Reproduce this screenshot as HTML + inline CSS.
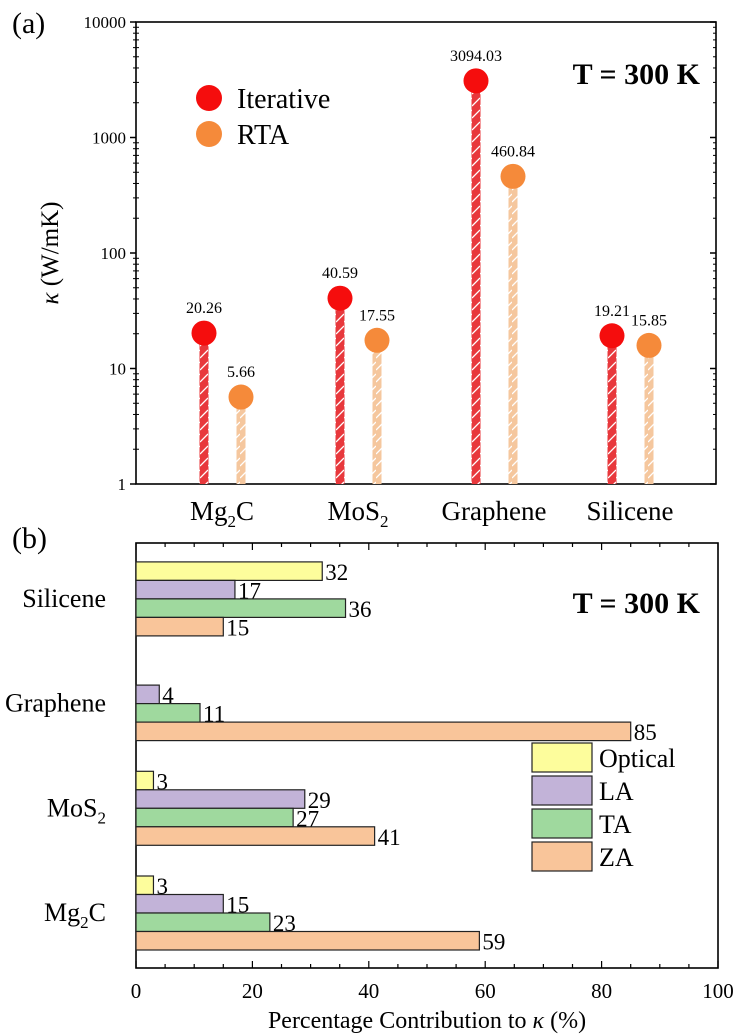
<!DOCTYPE html>
<html><head><meta charset="utf-8"><style>
html,body{margin:0;padding:0;background:#fff}
svg{display:block;font-family:"Liberation Serif",serif}
</style></head><body>
<svg id="fig" width="735" height="1034" viewBox="0 0 735 1034">
<defs>
<pattern id="hatchR" patternUnits="userSpaceOnUse" width="8" height="12">
<rect width="8" height="12" fill="#e8383c"/><line x1="0" y1="10" x2="8" y2="2" stroke="#fff" stroke-width="1.3"/></pattern>
<pattern id="hatchO" patternUnits="userSpaceOnUse" width="8" height="12">
<rect width="8" height="12" fill="#f5c79e"/><line x1="0" y1="10" x2="8" y2="2" stroke="#fff" stroke-width="1.3"/></pattern>
</defs>
<g id="pa"></g>
<g id="pb"></g>
</svg>
<script>
// ---- Panel (a) data ----
const catsA = ["Mg2C","MoS2","Graphene","Silicene"];
const iterVals = [20.26, 40.59, 3094.03, 19.21];
const rtaVals = [5.66, 17.55, 460.84, 15.85];
const iterLabels = ["20.26","40.59","3094.03","19.21"];
const rtaLabels = ["5.66","17.55","460.84","15.85"];
const yTicksA = [1,10,100,1000,10000];
// ---- Panel (b) data ----
const catsB = ["Mg2C","MoS2","Graphene","Silicene"];
const seriesNames = ["Optical","LA","TA","ZA"];
const opticalVals = [3, 3, 0, 32];
const laVals = [15, 29, 4, 17];
const taVals = [23, 27, 11, 36];
const zaVals = [59, 41, 85, 15];
const xTicksB = [0,20,40,60,80,100];

const NS="http://www.w3.org/2000/svg";
function mk(tag, attrs, parent, text){const e=document.createElementNS(NS,tag);for(const k in attrs)e.setAttribute(k,attrs[k]);if(text!==undefined)e.textContent=text;parent.appendChild(e);return e;}

// ===== Panel A =====
const pa=document.getElementById('pa');
const aL=136,aR=716,aT=22,aB=484;
const yA=v=>aB-Math.log10(v)*(aB-aT)/4;
const xA=i=>204+i*136;
let e;
e=mk('text',{x:12,y:33,'font-size':30},pa,'(a)');


e=mk('rect',{x:aL,y:aT,width:aR-aL,height:aB-aT,fill:'none',stroke:'#000','stroke-width':1.6},pa);


for(const t of yTicksA){
  const y=yA(t);
  e=mk('line',{x1:aL-6,x2:aL,y1:y,y2:y,stroke:'#000','stroke-width':1.5},pa);
  
  
  mk('line',{x1:aR,x2:aR-6,y1:y,y2:y,stroke:'#000','stroke-width':1.5},pa);
  e=mk('text',{x:aL-10,y:y+6,'font-size':17,'text-anchor':'end'},pa,String(t));
  
  
  if(t<10000){for(let m=2;m<=9;m++){const ym=yA(t*m);
    mk('line',{x1:aL-3,x2:aL+3,y1:ym,y2:ym,stroke:'#000','stroke-width':1},pa);
    mk('line',{x1:aR-3,x2:aR,y1:ym,y2:ym,stroke:'#000','stroke-width':1},pa);}}
}
e=mk('text',{x:0,y:0,'font-size':25,'text-anchor':'middle',transform:'translate(58,253) rotate(-90)'},pa);


mk('tspan',{'font-style':'italic'},e,'κ');mk('tspan',{},e,' (W/mK)');
const labNames=[["Mg","2","C"],["MoS","2",""],["Graphene","",""],["Silicene","",""]];
catsA.forEach((c,i)=>{
  const cx=xA(i)+18;
  e=mk('text',{x:cx,y:520,'font-size':27,'text-anchor':'middle'},pa);
  
  
  mk('tspan',{},e,labNames[i][0]);
  if(labNames[i][1]){mk('tspan',{'font-size':17,dy:7},e,labNames[i][1]);mk('tspan',{dy:-7},e,labNames[i][2]);}
  const xi=xA(i), yi=yA(iterVals[i]);
  e=mk('rect',{x:xi-4.5,y:yi,width:9,height:aB-yi,fill:'url(#hatchR)'},pa);
  
  
  e=mk('circle',{cx:xi,cy:yi,r:12.5,fill:'#f50d0d'},pa);
  
  
  e=mk('text',{x:xi,y:yi-20,'font-size':16,'text-anchor':'middle'},pa,iterLabels[i]);
  
  
  const xr=xA(i)+37, yr=yA(rtaVals[i]);
  e=mk('rect',{x:xr-4.5,y:yr,width:9,height:aB-yr,fill:'url(#hatchO)'},pa);
  
  
  e=mk('circle',{cx:xr,cy:yr,r:12.5,fill:'#f58a3a'},pa);
  
  
  e=mk('text',{x:xr,y:yr-20,'font-size':16,'text-anchor':'middle'},pa,rtaLabels[i]);
  
  
});
e=mk('circle',{cx:209,cy:98,r:13,fill:'#f50d0d'},pa);


e=mk('text',{x:237,y:108,'font-size':28},pa,'Iterative');


e=mk('circle',{cx:209,cy:134,r:13,fill:'#f58a3a'},pa);


e=mk('text',{x:237,y:144,'font-size':28},pa,'RTA');


e=mk('text',{x:700,y:84,'font-size':30,'font-weight':'bold','text-anchor':'end'},pa,'T = 300 K');



// ===== Panel B =====
const pb=document.getElementById('pb');
const bL=136,bR=718,bT=543,bB=968;
const xB=v=>bL+v*(bR-bL)/100;
const yB=i=>913-i*104.7;
const colors=['#fdfd9c','#c2b3d8','#9fd99e','#f9c59a'];
const allVals=[opticalVals,laVals,taVals,zaVals];
e=mk('text',{x:12,y:548,'font-size':30},pb,'(b)');


e=mk('rect',{x:bL,y:bT,width:bR-bL,height:bB-bT,fill:'none',stroke:'#000','stroke-width':1.6},pb);


for(let v=0;v<=100;v+=5){const x=xB(v),len=(v%20===0)?7:4;
  mk('line',{x1:x,x2:x,y1:bB,y2:bB-len,stroke:'#000','stroke-width':1.2},pb);
  mk('line',{x1:x,x2:x,y1:bT,y2:bT+len,stroke:'#000','stroke-width':1.2},pb);}
for(const t of xTicksB){
  e=mk('text',{x:xB(t),y:998,'font-size':21,'text-anchor':'middle'},pb,String(t));
  
  
}
e=mk('text',{x:427,y:1028,'font-size':24,'text-anchor':'middle'},pb);


mk('tspan',{},e,'Percentage Contribution to ');mk('tspan',{'font-style':'italic'},e,'κ');mk('tspan',{},e,' (%)');
catsB.forEach((c,i)=>{
  const cy=yB(i);
  e=mk('text',{x:106,y:cy+8,'font-size':26,'text-anchor':'end'},pb);
  
  
  mk('tspan',{},e,labNames[i][0]);
  if(labNames[i][1]){mk('tspan',{'font-size':17,dy:7},e,labNames[i][1]);mk('tspan',{dy:-7},e,labNames[i][2]);}
  allVals.forEach((arr,k)=>{
    const v=arr[i]; if(v<=0) return;
    const top=cy-37+k*18.5;
    e=mk('rect',{x:bL,y:top,width:xB(v)-bL,height:18.5,fill:colors[k],stroke:'#222','stroke-width':1.2},pb);
    
    
    e=mk('text',{x:xB(v)+3,y:top+18,'font-size':23},pb,String(v));
    
    
  });
});
seriesNames.forEach((n,k)=>{
  const y=743+k*33;
  e=mk('rect',{x:532,y:y,width:60,height:29,fill:colors[k],stroke:'#222','stroke-width':1.2},pb);
  
  
  e=mk('text',{x:599,y:y+24,'font-size':26},pb,n);
  
  
});
e=mk('text',{x:700,y:613,'font-size':30,'font-weight':'bold','text-anchor':'end'},pb,'T = 300 K');


</script>
</body></html>
